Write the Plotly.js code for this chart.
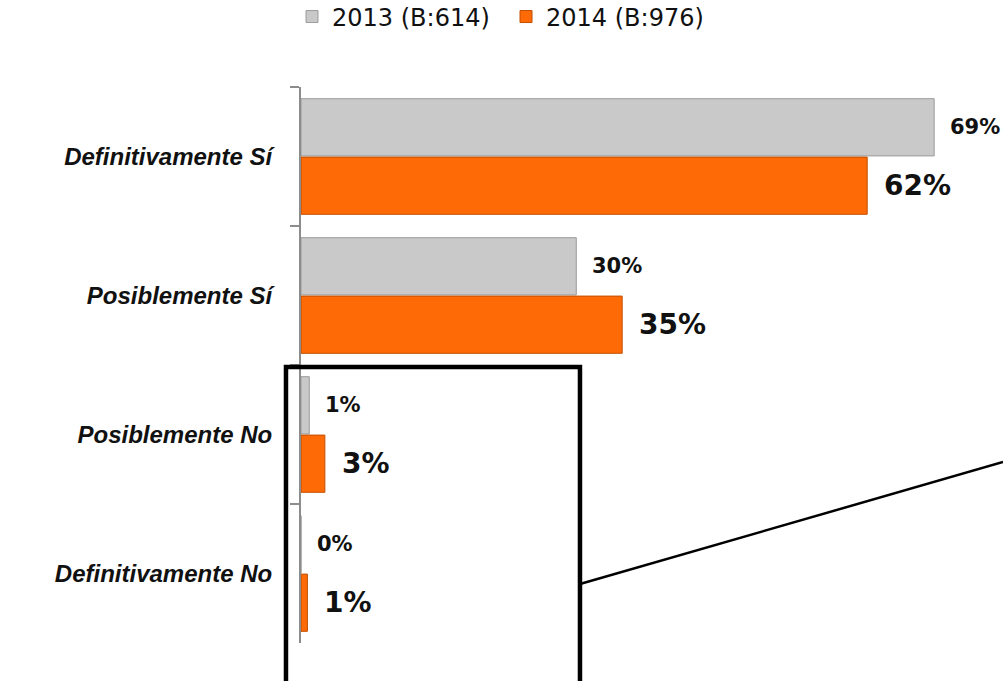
<!DOCTYPE html>
<html>
<head>
<meta charset="utf-8">
<script src="https://cdn.plot.ly/plotly-3.0.1.min.js"></script>
<style>
  html, body { margin: 0; padding: 0; background: #ffffff; }
  #chart { width: 1003px; height: 681px; }
</style>
</head>
<body>
<div id="chart"></div>
<script>
// ---- data ----
const categories = ["Definitivamente Sí", "Posiblemente Sí", "Posiblemente No", "Definitivamente No"];
const seriesNames = ["2013 (B:614)", "2014 (B:976)"];
const values2013 = [69.0, 30.0, 0.9, 0.0];
const values2014 = [61.7, 35.0, 2.6, 0.7];

// ---- style ----
const grayFill = "#c9c9c9", grayEdge = "#9b9b9b";
const orangeFill = "#fe6a06", orangeEdge = "#c24f00";

const traces = [
  {
    type: "bar", orientation: "h", name: seriesNames[0],
    y: categories, x: values2013,
    marker: { color: grayFill, line: { color: grayEdge, width: 1 } },
    hoverinfo: "skip"
  },
  {
    type: "bar", orientation: "h", name: seriesNames[1],
    y: categories, x: values2014,
    marker: { color: orangeFill, line: { color: orangeEdge, width: 1 } },
    hoverinfo: "skip"
  }
];

const annotations = [];
categories.forEach((c, i) => {
  annotations.push({
    x: values2013[i], y: c, xref: "x", yref: "y",
    text: Math.round(values2013[i]) + "%",
    showarrow: false, xanchor: "left", yanchor: "middle",
    xshift: 14, yshift: 30,
    font: { family: "DejaVu Sans", size: 21, color: "#111", weight: "bold" }
  });
  annotations.push({
    x: values2014[i], y: c, xref: "x", yref: "y",
    text: Math.round(values2014[i]) + "%",
    showarrow: false, xanchor: "left", yanchor: "middle",
    xshift: 15, yshift: -29,
    font: { family: "DejaVu Sans", size: 28, color: "#111", weight: "bold" }
  });
});

const layout = {
  width: 1003, height: 681,
  margin: { l: 301, r: 0, t: 87, b: 38, autoexpand: false },
  paper_bgcolor: "#ffffff", plot_bgcolor: "#ffffff",
  barmode: "group", bargap: 0.16, bargroupgap: 0.02,
  showlegend: true,
  legend: {
    orientation: "h", x: -0.0128, xanchor: "left", y: 1.126, yanchor: "middle",
    font: { family: "DejaVu Sans", size: 24, color: "#111" },
    traceorder: "normal", entrywidth: 169
  },
  xaxis: {
    range: [0, 76.5], visible: false, showgrid: false, zeroline: false, fixedrange: true
  },
  yaxis: {
    type: "category", autorange: false, range: [3.5, -0.5],
    showline: true, linecolor: "#8c8c8c", linewidth: 2,
    ticks: "outside", tickson: "boundaries", ticklen: 9, tickcolor: "#8c8c8c", tickwidth: 1.5,
    ticklabelstandoff: 22,
    tickfont: { family: "Liberation Sans", size: 24, color: "#111", weight: "bold", style: "italic" },
    showgrid: false, zeroline: false, fixedrange: true
  },
  annotations: annotations,
  shapes: [
    { type: "rect", xref: "paper", yref: "paper",
      x0: -0.0214, x1: 0.3974, y0: -0.09, y1: 0.4964,
      line: { color: "#000", width: 4.5 }, fillcolor: "rgba(0,0,0,0)" },
    { type: "line", xref: "paper", yref: "paper",
      x0: 0.3974, y0: 0.1061, x1: 1.0, y1: 0.3255,
      line: { color: "#000", width: 2.5 } }
  ]
};

Plotly.newPlot("chart", traces, layout, { displayModeBar: false, staticPlot: true });
</script>
</body>
</html>
